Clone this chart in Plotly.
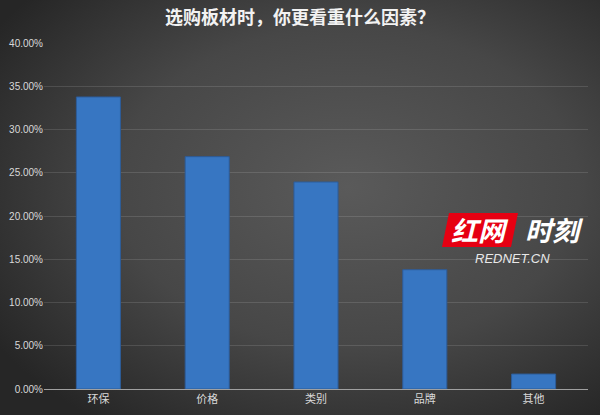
import base64
import plotly.graph_objects as go

# ---- data ----
categories = ["环保", "价格", "类别", "品牌", "其他"]
values_pct = [33.76, 26.86, 23.93, 13.79, 1.73]
tick_vals = [0, 5, 10, 15, 20, 25, 30, 35, 40]
title_text = "选购板材时，你更看重什么因素？"

# ---- figure geometry ----
W, H = 600, 415
ml, mr, mt, mb = 44, 12, 43, 26
pw, ph = W - ml - mr, H - mt - mb

svg = f'''<svg xmlns="http://www.w3.org/2000/svg" width="{W}" height="{H}" viewBox="0 0 {W} {H}">
<defs><radialGradient id="g" cx="58%" cy="45%" r="70%">
<stop offset="0%" stop-color="#5a5a5a"/>
<stop offset="55%" stop-color="#474747"/>
<stop offset="100%" stop-color="#262626"/>
</radialGradient></defs>
<rect width="{W}" height="{H}" fill="url(#g)"/></svg>'''
bg_src = "data:image/svg+xml;base64," + base64.b64encode(svg.encode()).decode()

fig = go.Figure()
fig.add_trace(go.Bar(
    x=categories, y=values_pct,
    marker=dict(color="#3776c2", line=dict(color="#2d5c99", width=1)),
    hoverinfo="x+y",
))

def px_x(v):
    return (v - ml) / pw

def px_y(v):
    return (H - mb - v) / ph

fig.add_layout_image(dict(
    source=bg_src, xref="paper", yref="paper",
    x=px_x(0), y=px_y(0), sizex=W / pw, sizey=H / ph,
    xanchor="left", yanchor="top", sizing="stretch", layer="below",
))

# watermark logo
fig.add_shape(type="path", xref="paper", yref="paper",
              path=f"M {px_x(449)} {px_y(213)} L {px_x(518)} {px_y(213)} L {px_x(511)} {px_y(247)} L {px_x(442)} {px_y(247)} Z",
              fillcolor="#e60012", line=dict(width=0), layer="above")
fig.add_annotation(x=px_x(480), y=px_y(230), xref="paper", yref="paper",
                   xanchor="center", yanchor="middle", borderpad=0,
                   text="<b><i>红网</i></b>", showarrow=False,
                   font=dict(family="Noto Sans CJK SC", size=27, color="white"))
fig.add_annotation(x=px_x(554), y=px_y(230), xref="paper", yref="paper",
                   xanchor="center", yanchor="middle", borderpad=0,
                   text="<b><i>时刻</i></b>", showarrow=False,
                   font=dict(family="Noto Sans CJK SC", size=27, color="white"))
fig.add_annotation(x=px_x(512), y=px_y(258), xref="paper", yref="paper",
                   xanchor="center", yanchor="middle", borderpad=0,
                   text="<i>REDNET.CN</i>", showarrow=False,
                   font=dict(family="Liberation Sans", size=13, color="#e8e8e8"))

fig.update_layout(
    width=W, height=H,
    margin=dict(l=ml, r=mr, t=mt, b=mb, autoexpand=False),
    paper_bgcolor="#3a3a3a",
    plot_bgcolor="rgba(0,0,0,0)",
    bargap=0.595,
    showlegend=False,
    title=dict(text=f"<b>{title_text}</b>", x=0.5, xanchor="center", y=1 - 18 / H, yanchor="middle",
               font=dict(family="Noto Sans CJK SC", size=18, color="#f2f2f2")),
    xaxis=dict(
        showgrid=False, showline=True, linecolor="#a0a0a0", linewidth=1,
        ticks="", tickfont=dict(family="Noto Sans CJK SC", size=11, color="#d9d9d9"),
        fixedrange=True, automargin=False,
    ),
    yaxis=dict(
        range=[0, 40], tickvals=tick_vals, ticktext=[f"{v:.2f}%" for v in tick_vals],
        showgrid=True, gridcolor="rgba(255,255,255,0.12)", gridwidth=1,
        zeroline=False, showline=False, ticks="", ticklen=0,
        tickfont=dict(family="Liberation Sans Narrow, Liberation Sans", size=10, color="#d9d9d9"),
        fixedrange=True, automargin=False,
    ),
)

fig.write_html("out.html", config={"displayModeBar": False},
               post_script="document.body.style.margin='0';")
